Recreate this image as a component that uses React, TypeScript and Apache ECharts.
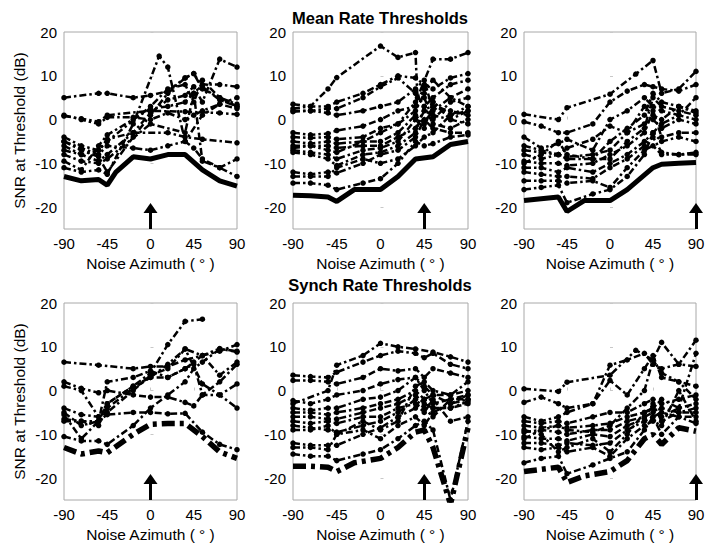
import React, { useEffect, useRef } from "react";
import * as echarts from "echarts";

// ---- axis / tick data ----
const azimuthTicks = [-90, -45, 0, 45, 90];
const snrTicks = [-20, -10, 0, 10, 20];
const panelTitles = ["Mean Rate Thresholds", "Synch Rate Thresholds"];
const arrowAzimuths = [0, 45, 90];
const xAxisName = "Noise Azimuth ( ° )";
const yAxisName = "SNR at Threshold (dB)";

// ---- Mean rate thresholds: envelopes (best thresholds) ----
const meanLeftEnvelope = [[-90,-13],[-72,-14],[-54,-13.7],[-45,-15],[-36,-12],[-18,-8.5],[0,-9],[18,-8],[36,-8],[54,-11.5],[72,-14],[90,-15.2]];
const meanMidEnvelope = [[-90,-17.3],[-72,-17.4],[-54,-17.7],[-45,-18.7],[-27,-16],[0,-16],[18,-13],[36,-9],[54,-8.5],[72,-5.7],[90,-5]];
const meanRightEnvelope = [[-90,-18.5],[-54,-17.7],[-45,-21],[-27,-18.5],[0,-18.5],[18,-16],[45,-11],[54,-10.2],[72,-10],[90,-9.8]];

// ---- Mean rate thresholds: individual units ----
const meanLeftUnits = [
  [[-90,5],[-54,6],[-45,6],[-18,5],[0,5.5],[18,6.5],[36,9.5],[45,10.5],[54,7],[72,5],[90,3]],
  [[-90,-11],[-72,-12],[-54,-11.5],[-45,-12.5],[-18,-1],[9,14.5],[18,12],[36,-5],[45,-6.5],[54,-9],[72,-11],[90,-13]],
  [[-90,-7],[-72,-8],[-54,-9.5],[-45,-8],[-18,-3],[0,1.5],[18,4.5],[36,5.5],[45,7.5],[54,4],[72,13.8],[90,12]],
  [[-90,0.8],[-72,0.2],[-54,-0.5],[-45,1],[0,2],[36,1.8],[72,1.5],[90,1.2]],
  [[-90,-4],[-72,-6],[-54,-7],[-45,-4.5],[-18,-3],[18,-3],[36,-4],[54,-4.5],[90,-5.3]],
  [[-90,-5],[-72,-6.5],[-54,-8],[-45,-6],[-18,-6.5],[0,-7],[18,-6],[36,-5],[54,1],[72,3.5],[90,5]],
  [[-90,-9.5],[-72,-11.5],[-54,-6],[-45,-3.5],[-18,0],[0,2.5],[18,3],[36,4],[45,6],[54,8],[72,8],[90,7.5]],
  [[-90,-5],[-72,-7],[-54,-8.5],[-45,-12],[-18,-4],[0,1],[18,6],[36,9.5],[45,10.5],[54,7.5],[72,4.5],[90,3]],
  [[-90,1],[-72,0],[-54,-1],[-45,0.5],[-18,0.5],[0,0],[18,1.5],[36,0],[45,1],[54,2],[72,3.5],[90,2.5]],
  [[-90,-6],[-72,-8],[-54,-7],[-45,-5],[0,3],[18,7],[36,8],[45,4],[54,9],[72,5],[90,3.5]],
  [[-90,-8],[-72,-9.5],[-54,-10],[-45,-9],[0,-1],[36,-3],[45,6],[54,-9.5],[72,-11],[90,-9]]
];
const meanMidUnits = [
  [[-90,2.5],[-72,3],[-54,7],[-45,9.6],[0,16.8],[18,14.2],[36,15.3],[38,5],[54,13.8],[72,13.8],[90,15.3]],
  [[-90,3.5],[-72,3],[-54,3],[-45,4],[-18,6],[0,8],[18,10],[36,9.5],[45,8],[54,7],[72,9.5],[90,10.5]],
  [[-90,2],[-72,2],[-54,2.5],[-45,2.5],[-18,5],[0,7.5],[18,9.5],[36,6],[45,3],[54,5],[72,8],[90,9]],
  [[-90,1.8],[-72,2],[-54,1.5],[-45,1],[-18,2],[0,3],[18,4],[36,7],[45,9],[54,2],[72,5],[90,7]],
  [[-90,-3],[-72,-3.5],[-54,-3.2],[-45,-2.5],[-18,-1.5],[0,0],[18,2],[36,3],[45,5],[54,0],[72,4],[90,5]],
  [[-90,-4],[-72,-4.2],[-54,-4],[-45,-4.5],[-18,-4],[0,-2],[18,-1],[36,2],[45,6],[54,4],[72,1],[90,3]],
  [[-90,-5],[-72,-5.5],[-54,-5],[-45,-5.5],[-18,-5],[0,-5],[18,-3],[36,1],[45,-1],[54,3],[72,2],[90,1]],
  [[-90,-6.5],[-72,-6],[-54,-6],[-45,-6.5],[-18,-6],[0,-6],[18,-4],[36,-2],[45,2],[54,1],[72,0],[90,2]],
  [[-90,-7],[-72,-7.5],[-54,-8],[-45,-9],[-18,-7],[0,-6.5],[18,-5],[36,0],[45,-2],[54,4],[72,0],[90,-1]],
  [[-90,-7.5],[-72,-8],[-54,-9],[-45,-10.5],[-18,-8],[0,-7.5],[18,-6],[36,-3],[45,3],[54,-1],[72,-2],[90,0]],
  [[-90,-12],[-72,-12.5],[-54,-12],[-45,-12.2],[-18,-10],[0,-8],[18,-7],[36,-4],[45,0],[54,-2],[72,-3],[90,-3]],
  [[-90,-14.5],[-72,-14.5],[-54,-15],[-45,-16],[-18,-14.5],[0,-13.5],[18,-10],[36,-5],[45,-6],[54,-5.5],[72,-4],[90,-3.5]],
  [[-90,-13],[-72,-13],[-54,-13],[-45,-11],[-18,-9],[0,-10],[18,-9],[36,-6],[45,-4],[54,-3],[72,1],[90,2]],
  [[-90,-6],[-72,-6],[-54,-7],[-45,-7.5],[-18,-5],[0,-3],[18,-1],[36,4],[45,7],[54,9],[72,5],[90,3]]
];
const meanRightUnits = [
  [[-90,1.2],[-54,0],[-45,2.7],[0,5.8],[27,10.4],[45,13.5],[54,6],[72,7],[90,11]],
  [[-90,-0.5],[-72,-1.5],[-54,-3],[-45,-3],[-18,-1],[0,4],[18,6.5],[36,8],[45,7.5],[54,7],[72,6.5],[90,8]],
  [[-90,-4],[-72,-6.5],[-54,-5.5],[-45,-4.5],[-18,-7],[0,0],[18,2],[36,5],[45,3],[54,2],[72,1],[90,5]],
  [[-90,-6],[-72,-7],[-54,-8],[-45,-6.5],[-18,-4.5],[0,-1.5],[18,-3],[36,3],[45,1],[54,0],[72,3],[90,2]],
  [[-90,-7],[-72,-7.5],[-54,-8],[-45,-8.5],[-18,-8],[0,-7],[18,-3],[36,-1],[45,0],[54,-2],[72,0],[90,-1]],
  [[-90,-8],[-72,-9],[-54,-8],[-45,-9],[-18,-9],[0,-9],[18,-5],[36,-2],[45,5],[54,3],[72,2],[90,1]],
  [[-90,-9.5],[-72,-10],[-54,-10],[-45,-10.5],[-18,-10],[0,-8],[18,-6],[36,-3],[45,2],[54,-4],[72,-3],[90,-3]],
  [[-90,-11],[-72,-11],[-54,-12],[-45,-11],[-18,-12],[0,-10],[18,-8],[36,-5],[45,-3],[54,-5],[72,-4],[90,-5]],
  [[-90,-12],[-72,-12.5],[-54,-13],[-45,-13],[-18,-13.5],[0,-11],[18,-9],[36,-6],[45,-4],[54,-7.5],[72,-8],[90,-7.5]],
  [[-90,-14],[-72,-14],[-54,-14],[-45,-14.5],[-18,-14],[0,-15.5],[18,-11],[36,-7],[45,-6],[54,-8],[72,-8],[90,-8]],
  [[-90,-16],[-72,-15.5],[-54,-15],[-45,-19],[-18,-17],[0,-16],[18,-13],[36,-8],[45,-3],[54,-1],[72,1],[90,0]],
  [[-90,-10],[-72,-8],[-54,-5],[-45,-8],[-18,-9],[0,-5],[18,-2],[36,1],[45,6],[54,4],[72,3],[90,1.5]]
];

// ---- Synch rate thresholds: envelopes ----
const synchLeftEnvelope = [[-90,-13],[-72,-14.5],[-54,-13.8],[-45,-14.2],[-18,-10],[0,-7.7],[18,-7.5],[36,-7.5],[54,-10.5],[72,-14],[90,-15.5]];
const synchMidEnvelope = [[-90,-17.3],[-72,-17.3],[-54,-17.5],[-45,-18.5],[-27,-16.5],[0,-15.5],[18,-13],[36,-9.5],[45,-9],[54,-13],[72,-26],[90,-8.5]];
const synchRightEnvelope = [[-90,-18.5],[-72,-18],[-54,-17.5],[-45,-21],[-27,-19.5],[0,-18.5],[18,-16],[36,-11],[45,-10],[54,-12.3],[72,-8.5],[90,-9.3]];

// ---- Synch rate thresholds: individual units ----
const synchLeftUnits = [
  [[-90,6.5],[-54,5.8],[-18,5],[0,5.5],[18,5.5],[36,7],[54,8],[72,9.6],[90,8.8]],
  [[-90,-5],[-72,-8],[-54,-7],[-45,-3],[-18,1],[0,4],[18,10.5],[36,15.8],[54,16.3]],
  [[-90,2],[-72,0.5],[-54,-0.5],[-45,0],[-18,-1],[0,-1.5],[18,-1.5],[36,-2.7],[45,-3.5],[54,-1],[72,2],[90,6]],
  [[-90,1],[-72,0],[-54,-6],[-45,-5],[-18,0],[0,3.5],[18,5],[36,9.5],[54,1.5],[72,-1],[90,-4]],
  [[-90,-4],[-72,-5.5],[-54,-6],[-45,-3],[-18,1],[0,3],[18,3],[36,5],[45,6.5],[54,8],[72,3.5],[90,6.5]],
  [[-90,-10.5],[-72,-11.5],[-54,-11.5],[-45,-12.3],[-18,-8],[0,-4],[18,-1],[36,2],[45,5],[54,6.5],[72,9.5],[90,9]],
  [[-90,-7],[-72,-7],[-54,-7],[-45,-5.5],[-18,-5],[0,-5],[18,-5.3],[36,-5.2],[54,-9.5],[72,-12.3],[90,-13.5]],
  [[-90,-5.5],[-72,-11],[-54,-7],[-45,2],[-18,3],[0,4.5],[18,3],[36,5],[45,6],[54,-1],[72,-1],[90,1.5]],
  [[-90,-6.5],[-72,-7],[-54,-8],[-45,-4],[-18,0.5],[0,3],[18,6],[36,9.5],[54,8],[72,9],[90,10.5]]
];
const synchMidUnits = [
  [[-90,-3],[-54,0],[-45,5.8],[-18,8],[0,10.8],[18,10],[36,9.5],[54,8.8],[72,7.7],[90,6.5]],
  [[-90,3.5],[-72,3.2],[-54,3],[-45,4.2],[-18,6.5],[0,8],[18,9],[36,8.5],[45,7.5],[54,8.5],[72,6],[90,5]],
  [[-90,2.3],[-72,2.3],[-54,2],[-45,1.5],[-18,3],[0,5],[18,4.5],[36,5],[45,3],[54,5],[72,4],[90,3]],
  [[-90,-2.3],[-72,-3],[-54,-2],[-45,-1],[-18,0],[0,1.5],[18,2.5],[36,3],[45,1],[54,-1],[72,-1],[90,2]],
  [[-90,-4],[-72,-4.5],[-54,-4],[-45,-4],[-18,-2],[0,-1.5],[18,0],[36,3],[45,0],[54,-3],[72,-2],[90,-1]],
  [[-90,-5],[-72,-5],[-54,-5.5],[-45,-5],[-18,-4],[0,-3],[18,-2],[36,0],[45,-2],[54,-1],[72,-3],[90,-2]],
  [[-90,-6],[-72,-6],[-54,-6.5],[-45,-6.5],[-18,-5],[0,-4],[18,-3],[36,-1],[45,-3],[54,-4],[72,-4],[90,-3]],
  [[-90,-7],[-72,-7.5],[-54,-7],[-45,-7.5],[-18,-6],[0,-6],[18,-4],[36,-3],[45,-5],[54,-2],[72,-7],[90,-6]],
  [[-90,-8],[-72,-8.5],[-54,-9],[-45,-9.5],[-18,-8],[0,-7],[18,-5],[36,-2],[45,-4],[54,-6],[72,-2],[90,-2]],
  [[-90,-12],[-72,-12.5],[-54,-12.5],[-45,-12.5],[-18,-10],[0,-8.5],[18,-6],[36,-4],[45,-2],[54,-4],[72,-4],[90,-2.5]],
  [[-90,-14.5],[-72,-15],[-54,-15],[-45,-16],[-18,-14.5],[0,-13.5],[18,-11],[36,-8],[45,-7],[54,-9],[72,-25],[90,-7]],
  [[-90,-13],[-72,-13],[-54,-13.5],[-45,-10],[-18,-9],[0,-11],[18,-8],[36,-6],[45,-8],[54,-5],[72,-3],[90,-1]],
  [[-90,-9],[-72,-9],[-54,-8],[-45,-10],[-18,-7],[0,-9],[18,-7],[36,1],[45,2],[54,0],[72,-1],[90,0]]
];
const synchRightUnits = [
  [[-90,0.4],[-54,-0.2],[-45,1.9],[0,3.5],[27,9.2],[45,7],[54,11],[72,6],[90,11.5]],
  [[-90,-2.7],[-72,-1.5],[-54,-3],[-45,-4],[-18,-3],[0,5.8],[18,7],[36,8.5],[45,6],[54,5],[72,6],[90,5.5]],
  [[-90,-6],[-72,-7],[-54,-6],[-45,-5],[-18,-3],[0,2.3],[18,-1],[36,5],[45,8],[54,3],[72,2],[90,1]],
  [[-90,-7],[-72,-7.5],[-54,-7],[-45,-7.5],[-18,-6],[0,-5],[18,-5],[36,-3],[45,-2],[54,-3],[72,-2],[90,-1]],
  [[-90,-8],[-72,-8.5],[-54,-8],[-45,-8.5],[-18,-8],[0,-7.5],[18,-6],[36,-5],[45,-4],[54,-6],[72,-4],[90,-3]],
  [[-90,-9.5],[-72,-9],[-54,-9.5],[-45,-10],[-18,-9],[0,-9],[18,-7],[36,-6],[45,-5],[54,-4],[72,-5],[90,-4]],
  [[-90,-10.5],[-72,-11],[-54,-11],[-45,-11.5],[-18,-10],[0,-10.5],[18,-8],[36,-6.5],[45,-3],[54,-7],[72,-5],[90,-5]],
  [[-90,-12],[-72,-12],[-54,-12.5],[-45,-12],[-18,-12.5],[0,-12],[18,-9],[36,-7],[45,-6],[54,-5],[72,-6],[90,-6]],
  [[-90,-13],[-72,-13.5],[-54,-13],[-45,-14],[-18,-13],[0,-15],[18,-11],[36,-8],[45,-7],[54,-8],[72,0],[90,-7]],
  [[-90,-16.5],[-72,-15.5],[-54,-15],[-45,-19],[-18,-17],[0,-15.5],[18,-14],[36,-9],[45,-6],[54,-10],[72,-6],[90,-7.5]],
  [[-90,-11],[-72,-9],[-54,-8],[-45,-9],[-18,-9.5],[0,-8],[18,-4],[36,0],[45,7],[54,4],[72,2],[90,-2]],
  [[-90,-9],[-72,-10],[-54,-14],[-45,-13],[-18,-11],[0,-14],[18,-10],[36,-5],[45,-4],[54,-2],[72,-4],[90,8.5]]
];

const FONT = "'Liberation Sans', Arial, Helvetica, sans-serif";

const gridLefts = [64, 293, 524];
const gridWidths = [173, 175, 172];
const gridTops = [32, 303];
const gridHeight = 197;

export default function App() {
  const ref = useRef<HTMLDivElement>(null);

  useEffect(() => {
    if (!ref.current) return;
    const chart = echarts.init(ref.current, undefined, { renderer: "svg" });

    const panels = [
      { env: meanLeftEnvelope, units: meanLeftUnits, arrow: arrowAzimuths[0], row: 0, col: 0 },
      { env: meanMidEnvelope, units: meanMidUnits, arrow: arrowAzimuths[1], row: 0, col: 1 },
      { env: meanRightEnvelope, units: meanRightUnits, arrow: arrowAzimuths[2], row: 0, col: 2 },
      { env: synchLeftEnvelope, units: synchLeftUnits, arrow: arrowAzimuths[0], row: 1, col: 0 },
      { env: synchMidEnvelope, units: synchMidUnits, arrow: arrowAzimuths[1], row: 1, col: 1 },
      { env: synchRightEnvelope, units: synchRightUnits, arrow: arrowAzimuths[2], row: 1, col: 2 },
    ];

    const grids: any[] = [];
    const xAxes: any[] = [];
    const yAxes: any[] = [];
    const series: any[] = [];

    panels.forEach((p, i) => {
      grids.push({
        left: gridLefts[p.col],
        top: gridTops[p.row],
        width: gridWidths[p.col],
        height: gridHeight,
        show: true,
        borderColor: "#a8a8a8",
        borderWidth: 1,
        backgroundColor: "#fff",
      });
      xAxes.push({
        type: "value",
        gridIndex: i,
        min: -90,
        max: 90,
        interval: 45,
        axisLine: { show: false },
        splitLine: { show: false },
        axisTick: { show: true, inside: true, length: 3, lineStyle: { color: "#c8c8c8" } },
        axisLabel: { fontSize: 15, color: "#000", margin: 7, fontFamily: FONT, customValues: azimuthTicks },
        name: xAxisName,
        nameLocation: "middle",
        nameGap: 26,
        nameTextStyle: { fontSize: 15.5, color: "#000", fontFamily: FONT },
      });
      yAxes.push({
        type: "value",
        gridIndex: i,
        min: -25,
        max: 20,
        axisLine: { show: false },
        splitLine: { show: false },
        axisTick: { show: true, inside: true, length: 3, lineStyle: { color: "#c8c8c8" }, customValues: snrTicks },
        axisLabel: { fontSize: 15, color: "#000", margin: 7, fontFamily: FONT, customValues: snrTicks },
        name: p.col === 0 ? yAxisName : "",
        nameLocation: "middle",
        nameGap: 37,
        nameTextStyle: { fontSize: 15.5, color: "#000", fontFamily: FONT },
      });

      p.units.forEach((u) => {
        series.push({
          type: "line",
          xAxisIndex: i,
          yAxisIndex: i,
          data: u,
          symbol: "circle",
          symbolSize: 5.5,
          itemStyle: { color: "#000" },
          lineStyle: { color: "#000", width: 2.5, type: [7, 3, 2.5, 3] },
          z: 2,
          silent: true,
        });
      });

      series.push({
        type: "line",
        xAxisIndex: i,
        yAxisIndex: i,
        data: p.env,
        symbol: "none",
        lineStyle:
          p.row === 0
            ? { color: "#000", width: 5, type: "solid" }
            : { color: "#000", width: 5.5, type: [13, 5, 4, 5] },
        z: 3,
        silent: true,
        markLine: {
          silent: true,
          symbol: ["none", "triangle"],
          symbolSize: [14, 10],
          label: { show: false },
          lineStyle: { color: "#000", width: 3, type: "solid" },
          itemStyle: { color: "#000" },
          data: [[{ coord: [p.arrow, -25] }, { coord: [p.arrow, -20.2] }]],
        },
      });
    });

    const option: any = {
      animation: false,
      backgroundColor: "#fff",
      grid: grids,
      xAxis: xAxes,
      yAxis: yAxes,
      series,
      graphic: [
        {
          type: "text",
          x: 380,
          y: 18,
          style: { text: panelTitles[0], font: `bold 16.5px ${FONT}`, fill: "#000", textAlign: "center", textVerticalAlign: "middle" },
        },
        {
          type: "text",
          x: 380,
          y: 285,
          style: { text: panelTitles[1], font: `bold 16.5px ${FONT}`, fill: "#000", textAlign: "center", textVerticalAlign: "middle" },
        },
      ],
    };
    chart.setOption(option);
    return () => chart.dispose();
  }, []);

  return (
    <div
      ref={ref}
      style={{ position: "fixed", left: 0, top: 0, width: 713, height: 550, background: "#fff" }}
    />
  );
}
